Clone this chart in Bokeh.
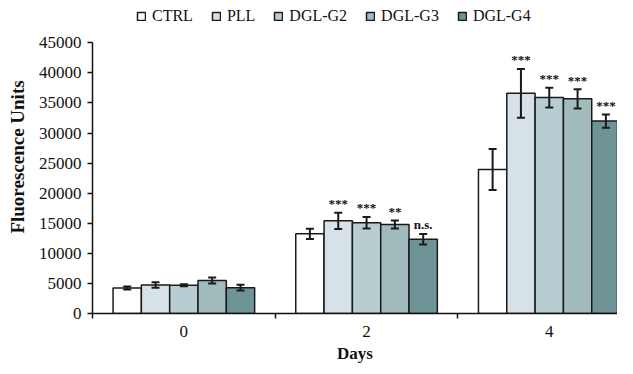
from bokeh.plotting import figure
from bokeh.models import (ColumnDataSource, Whisker, Legend, LegendItem, FixedTicker,
                          LabelSet, TeeHead)
from bokeh.embed import file_html
from bokeh.resources import INLINE

days = [0, 2, 4]
series = ["CTRL", "PLL", "DGL-G2", "DGL-G3", "DGL-G4"]
colors = ["#ffffff", "#d6e1e8", "#b8cdd2", "#a2bbbd", "#6f9498"]

means = {
    "CTRL":   [4250, 13250, 23950],
    "PLL":    [4750, 15400, 36600],
    "DGL-G2": [4700, 15100, 35900],
    "DGL-G3": [5500, 14800, 35700],
    "DGL-G4": [4300, 12350, 32000],
}
errors = {
    "CTRL":   [250, 850, 3400],
    "PLL":    [450, 1350, 4050],
    "DGL-G2": [150, 950, 1650],
    "DGL-G3": [500, 650, 1600],
    "DGL-G4": [470, 880, 1100],
}
signif = {
    "CTRL":   ["", "", ""],
    "PLL":    ["", "***", "***"],
    "DGL-G2": ["", "***", "***"],
    "DGL-G3": ["", "**", "***"],
    "DGL-G4": ["", "n.s.", "***"],
}
y_ticks = [0, 5000, 10000, 15000, 20000, 25000, 30000, 35000, 40000, 45000]

FONT = "Liberation Serif"
bar_w = 0.31
offsets = [-2 * bar_w, -bar_w, 0, bar_w, 2 * bar_w]

# frame extends above the 45000 tick so that the legend sits inside it
p = figure(width=617, height=366, x_range=(-1, 4.747), y_range=(0, 52036),
           output_backend="svg", toolbar_location=None,
           min_border_left=92, min_border_top=0, min_border_bottom=53, min_border_right=0)
p.outline_line_color = None
p.xgrid.visible = False
p.ygrid.visible = False

items = []
lx, ly, lt = [], [], []
for s, c, off in zip(series, colors, offsets):
    xs = [d + off for d in days]
    m = means[s]
    e = errors[s]
    src = ColumnDataSource(dict(
        x=xs, top=m,
        lo=[a - b for a, b in zip(m, e)],
        hi=[a + b for a, b in zip(m, e)],
    ))
    r = p.vbar(x="x", top="top", width=bar_w, source=src, fill_color=c,
               line_color="#1a1a1a", line_width=1.5)
    w = Whisker(base="x", lower="lo", upper="hi", source=src, level="annotation",
                line_color="#1a1a1a", line_width=2,
                upper_head=TeeHead(size=8, line_width=2, line_color="#1a1a1a"),
                lower_head=TeeHead(size=8, line_width=2, line_color="#1a1a1a"))
    p.add_layout(w)
    for xi, mi, ei, ti in zip(xs, m, e, signif[s]):
        if ti:
            lx.append(xi)
            ly.append(mi + ei + 1500)
            lt.append(ti)
    items.append(LegendItem(label=s, renderers=[r]))

lab_src = ColumnDataSource(dict(x=lx, y=ly, t=lt))
labels = LabelSet(x="x", y="y", text="t", source=lab_src, text_align="center",
                  text_baseline="middle", text_font=FONT, text_font_size="13px",
                  text_font_style="bold", text_color="#111111")
p.add_layout(labels)

legend = Legend(items=items, orientation="horizontal", location=(44, 288),
                glyph_width=10, glyph_height=10, label_standoff=6, spacing=18,
                padding=0, margin=0, border_line_color=None,
                label_text_font=FONT, label_text_font_size="16px",
                label_text_color="#111111", background_fill_alpha=0)
p.add_layout(legend)

# x axis
p.xaxis.ticker = FixedTicker(ticks=days, minor_ticks=[-1, 1, 3])
p.xaxis.major_tick_line_color = None
p.xaxis.minor_tick_out = 5
p.xaxis.minor_tick_in = 0
p.xaxis.minor_tick_line_color = "#111111"
p.xaxis.minor_tick_line_width = 1.5
p.xaxis.axis_line_width = 1.5
p.xaxis.axis_line_color = "#111111"
p.xaxis.major_label_standoff = 6
p.xaxis.major_label_text_font = FONT
p.xaxis.major_label_text_font_size = "17px"
p.xaxis.major_label_text_color = "#111111"
p.xaxis.axis_label = "Days"
p.xaxis.axis_label_text_font = FONT
p.xaxis.axis_label_text_font_size = "17px"
p.xaxis.axis_label_text_font_style = "bold"
p.xaxis.axis_label_text_color = "#111111"
p.xaxis.axis_label_standoff = 4

# y axis
p.yaxis.ticker = FixedTicker(ticks=y_ticks)
p.yaxis.bounds = (0, 45000)
p.yaxis.major_tick_out = 5
p.yaxis.major_tick_in = 0
p.yaxis.minor_tick_line_color = None
p.yaxis.major_tick_line_width = 1.5
p.yaxis.major_tick_line_color = "#111111"
p.yaxis.axis_line_width = 1.5
p.yaxis.axis_line_color = "#111111"
p.yaxis.major_label_standoff = 6
p.yaxis.major_label_text_font = FONT
p.yaxis.major_label_text_font_size = "17px"
p.yaxis.major_label_text_color = "#111111"
p.yaxis.axis_label = "Fluorescence Units"
p.yaxis.axis_label_text_font = FONT
p.yaxis.axis_label_text_font_size = "19px"
p.yaxis.axis_label_text_font_style = "bold"
p.yaxis.axis_label_text_color = "#111111"
p.yaxis.axis_label_standoff = 8

open("out.html", "w").write(file_html(p, INLINE))
